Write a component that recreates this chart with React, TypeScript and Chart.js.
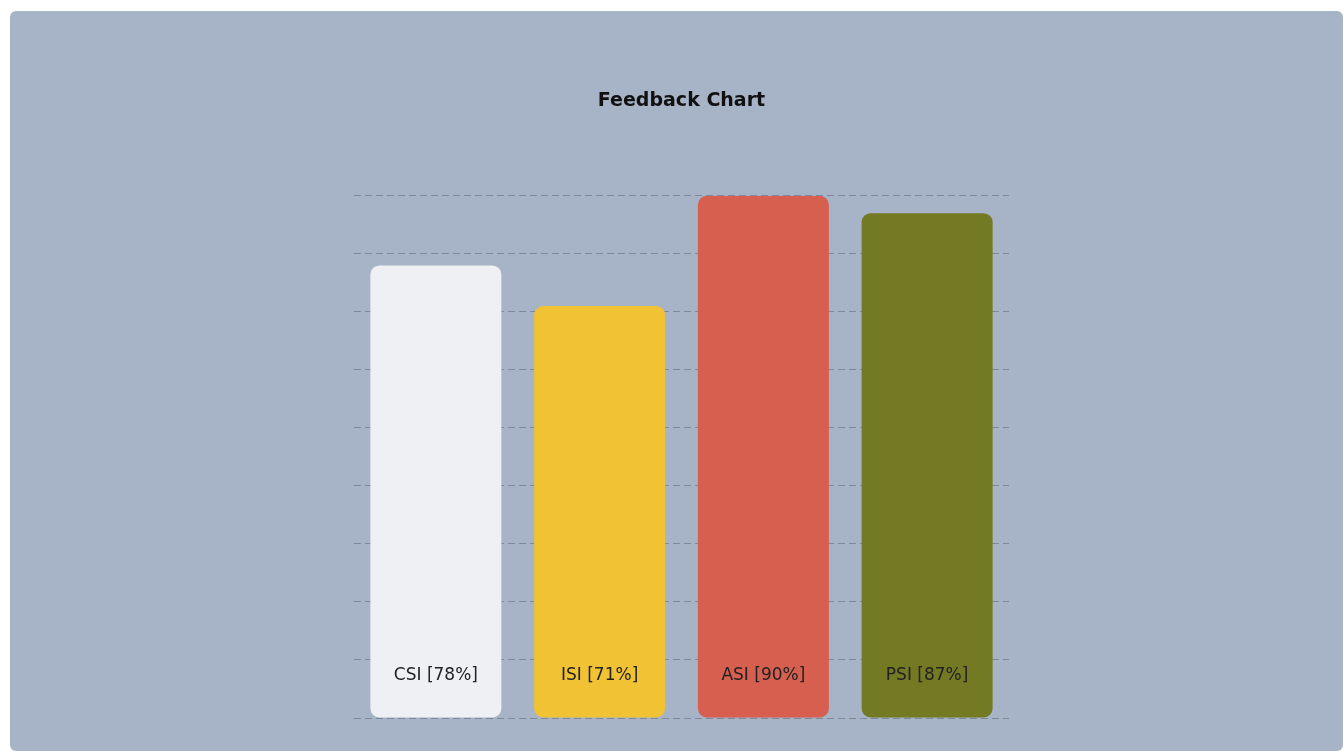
import React, { useEffect, useRef } from "react";
import { Chart, registerables } from "chart.js";

Chart.register(...registerables);

const categories = ["CSI", "ISI", "ASI", "PSI"];
const values = [78, 71, 90, 87];
const barColors = ["#eef0f4", "#f0c234", "#d65f50", "#737a23"];
const titleText = "Feedback Chart";

const barLabelPlugin = {
  id: "barLabels",
  afterDatasetsDraw(chart: any) {
    const ctx = chart.ctx;
    const meta = chart.getDatasetMeta(0);
    const yScale = chart.scales.y;
    ctx.save();
    ctx.font = "17px 'DejaVu Sans', sans-serif";
    ctx.fillStyle = "#222222";
    ctx.textAlign = "center";
    ctx.textBaseline = "middle";
    meta.data.forEach((bar: any, i: number) => {
      const y = yScale.getPixelForValue(0) - 42;
      ctx.fillText(`${categories[i]} [${values[i]}%]`, bar.x, y);
    });
    ctx.restore();
  },
};

export default function App() {
  const ref = useRef<HTMLCanvasElement | null>(null);
  useEffect(() => {
    if (!ref.current) return;
    const chart = new Chart(ref.current, {
      type: "bar",
      data: {
        labels: categories,
        datasets: [
          {
            data: values,
            backgroundColor: barColors,
            borderRadius: 9,
            borderSkipped: false,
            categoryPercentage: 0.8,
            barPercentage: 1,
          },
        ],
      },
      options: {
        animation: false,
        responsive: true,
        maintainAspectRatio: false,
        layout: { padding: { left: 344, right: 334, top: 0, bottom: 25 } },
        plugins: {
          legend: { display: false },
          tooltip: { enabled: false },
          title: {
            display: true,
            text: titleText,
            color: "#111111",
            font: { family: "'DejaVu Sans', sans-serif", size: 19, weight: "bold" },
            padding: { top: 79, bottom: 83 },
          },
        },
        scales: {
          x: {
            grid: { display: false },
            border: { display: false },
            ticks: { display: false },
          },
          y: {
            min: 0,
            max: 90,
            ticks: { display: false, stepSize: 10 },
            border: { display: false, dash: [7, 4] },
            grid: {
              color: "rgba(75,85,105,0.45)",
              lineWidth: 1,
              drawTicks: false,
            },
          } as any,
        },
      },
      plugins: [barLabelPlugin],
    });
    return () => chart.destroy();
  }, []);

  return (
    <div
      style={{
        position: "absolute",
        left: 10,
        top: 11,
        width: 1333,
        height: 740,
        background: "#a7b3c7",
        borderRadius: 6,
        overflow: "hidden",
      }}
    >
      <canvas ref={ref} />
    </div>
  );
}
